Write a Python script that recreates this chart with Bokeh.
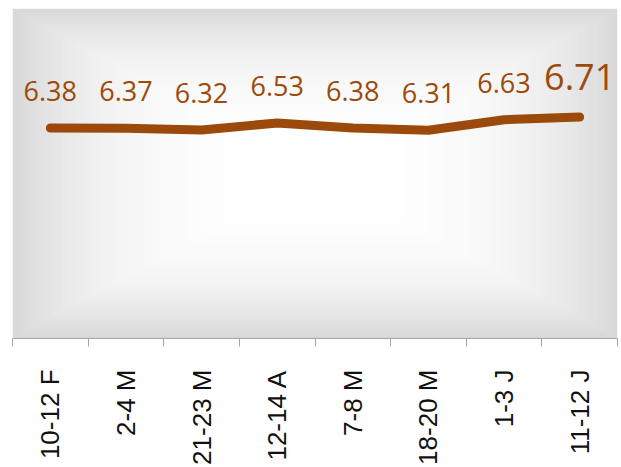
import numpy as np
from bokeh.plotting import figure
from bokeh.models import ColumnDataSource, Range1d, FixedTicker, LabelSet
from bokeh.core.properties import value, field
from bokeh.embed import file_html
from bokeh.resources import INLINE

categories = ["10-12 F", "2-4 M", "21-23 M", "12-14 A", "7-8 M", "18-20 M", "1-3 J", "11-12 J"]
values = [6.38, 6.37, 6.32, 6.53, 6.38, 6.31, 6.63, 6.71]

LINE_COLOR = "#9C4A0C"

x = list(range(len(categories)))
labels = [f"{v:.2f}" for v in values]
sizes = ["27px"] * (len(values) - 1) + ["36px"]
src = ColumnDataSource(dict(x=x, y=values, label=labels, size=sizes))

p = figure(width=621, height=467, output_backend="svg", toolbar_location=None,
           x_range=Range1d(-0.5, len(categories) - 0.5), y_range=Range1d(0, 10),
           min_border_left=12, min_border_right=4, min_border_top=8, min_border_bottom=127)
p.outline_line_color = None
p.grid.visible = False
p.yaxis.visible = False
p.background_fill_color = "white"
p.border_fill_color = "white"

# rectangular "from centre" gradient background
n = 240
u = np.linspace(-1, 1, n)
U, V = np.meshgrid(u, u)
t = np.maximum(np.abs(U), np.abs(V))
c = (255 - 38 * t ** 3).astype(np.uint8)
img = np.zeros((n, n), dtype=np.uint32)
view = img.view(np.uint8).reshape(n, n, 4)
view[..., 0] = c
view[..., 1] = c
view[..., 2] = c
view[..., 3] = 255
p.image_rgba(image=[img], x=-0.5, y=0, dw=len(categories), dh=10)

p.line("x", "y", source=src, line_width=9, line_color=LINE_COLOR,
       line_cap="round", line_join="round")

ls = LabelSet(x="x", y="y", text="label", source=src, text_font=value("Open Sans"),
              text_font_size=field("size"), text_color=LINE_COLOR, text_align="center",
              text_baseline="alphabetic", y_offset=27)
p.add_layout(ls)

xa = p.xaxis[0]
xa.ticker = FixedTicker(ticks=x, minor_ticks=[i - 0.5 for i in range(len(categories) + 1)])
xa.major_label_overrides = {i: c for i, c in enumerate(categories)}
xa.major_label_orientation = np.pi / 2
xa.major_tick_line_color = None
xa.major_tick_out = 0
xa.major_tick_in = 0
xa.minor_tick_line_color = "#a6a6a6"
xa.minor_tick_out = 8
xa.minor_tick_in = 0
xa.axis_line_color = "#a6a6a6"
xa.major_label_text_font = "Liberation Sans"
xa.major_label_text_font_size = "26px"
xa.major_label_standoff = 23
xa.major_label_text_color = "#111111"

open("out.html", "w").write(file_html(p, INLINE))
